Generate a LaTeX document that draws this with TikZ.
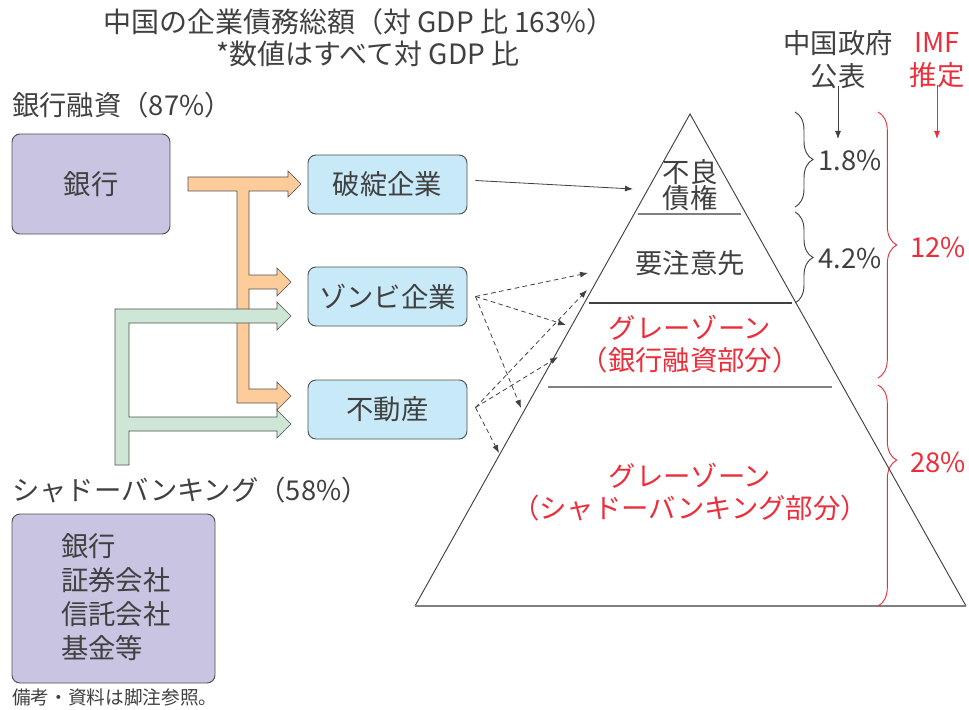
\documentclass[tikz,border=0pt]{standalone}
\usepackage{fontspec}
\setmainfont{Noto Sans CJK JP}
\usetikzlibrary{arrows.meta,decorations.pathreplacing,calc}
\definecolor{ink}{HTML}{404040}
\definecolor{imfred}{HTML}{EC2D3A}
\definecolor{purplefill}{HTML}{C8C4E1}
\definecolor{bluefill}{HTML}{C8E9F8}
\definecolor{orangefill}{HTML}{FDCC9A}
\definecolor{greenfill}{HTML}{CDE6D6}
\definecolor{boxline}{HTML}{505050}
\definecolor{greyline}{HTML}{808080}
\begin{document}
\begin{tikzpicture}[x=0.75pt,y=-0.75pt,
  txt/.style={inner sep=0pt, text=ink, font=\fontsize{20.5}{24.5}\selectfont, align=center},
  redtxt/.style={txt, text=imfred},
  box/.style={draw=boxline, line width=0.7pt, rounded corners=6pt, inner sep=0pt, text=ink, font=\fontsize{20.5}{24.5}\selectfont},
  srcbox/.style={box, fill=purplefill},
  firmbox/.style={box, fill=bluefill, minimum width={159*0.75pt}, minimum height={59*0.75pt}},
  fatarrow/.style={draw=boxline, line width=0.5pt, fill=#1},
  thinarrow/.style={draw=ink, line width=0.6pt, -{Latex[length=6pt,width=4.5pt]}},
  dasharrow/.style={thinarrow, dashed, dash pattern=on 3.5pt off 2.5pt},
  bracedark/.style={draw=ink, line width=0.7pt, decorate, decoration={brace, amplitude=13.5pt, #1}},
  bracered/.style={draw=imfred, line width=0.7pt, decorate, decoration={brace, amplitude=14pt, #1}},
  pyrside/.style={draw=ink, line width=0.7pt},
  tierline/.style={draw=greyline, line width=1.1pt}
]
\useasboundingbox (0,0) rectangle (969,709);

% title
\node[txt, font=\fontsize{21}{24.5}\selectfont] (title1) at (359,22) {中国の企業債務総額（対 GDP 比 163\%）};
\node[txt, font=\fontsize{21}{24.5}\selectfont] (title2) at (368,54) {*数値はすべて対 GDP 比};

% left labels and source boxes
\node[txt, anchor=west] (banklabel) at (12,105) {銀行融資（87\%）};
\node[srcbox, minimum width={158*0.75pt}, minimum height={100*0.75pt}] (bank) at (91,184) {銀行};
\node[txt, anchor=west] (sblabel) at (12,490) {シャドーバンキング（58\%）};
\node[srcbox, minimum width={203*0.75pt}, minimum height={169*0.75pt}] (shadow) at (113.5,598.5) {};
\node[txt, anchor=west, align=left, font=\fontsize{20.5}{25.3}\selectfont] (sbtext) at (61,597) {銀行\\証券会社\\信託会社\\基金等};
\node[txt, anchor=west, font=\fontsize{14}{17}\selectfont] (note) at (12,697) {備考・資料は脚注参照。};

% firm boxes
\node[firmbox] (hatan) at (387.5,184.5) {破綻企業};
\node[firmbox] (zombie) at (387.5,296.5) {ゾンビ企業};
\node[firmbox] (fudosan) at (387.5,409.5) {不動産};

% orange fat arrow (bank loans)
\path[fatarrow=orangefill] (188,177) -- (288,177) -- (288,171) -- (301,184) -- (288,197) -- (288,191)
  -- (249,191) -- (249,275) -- (277,275) -- (277,268) -- (291,282) -- (277,296) -- (277,289)
  -- (249,289) -- (249,389) -- (277,389) -- (277,382) -- (291,396) -- (277,410) -- (277,403)
  -- (237,403) -- (237,191) -- (188,191) -- cycle;
% green fat arrow (shadow banking)
\path[fatarrow=greenfill] (115,465) -- (115,309) -- (277,309) -- (277,302) -- (291,316) -- (277,330) -- (277,323)
  -- (129,323) -- (129,417) -- (277,417) -- (277,410) -- (291,424) -- (277,438) -- (277,431)
  -- (129,431) -- (129,465) -- cycle;

% pyramid
\coordinate (apex) at (690,114);
\coordinate (bl) at (415,606);
\coordinate (br) at (966,606);
\draw[pyrside] (bl) -- (apex) -- (br);
\draw[draw=greyline, line width=1.6pt] (bl) -- (br);
\draw[tierline] (638,214) -- (741,214);
\draw[draw=ink, line width=0.9pt] (589,303) -- (792,303);
\draw[tierline] (548,387) -- (832,387);

\node[txt, font=\fontsize{20.5}{19.5}\selectfont] (furyo) at (690,185) {不良\\債権};
\node[txt] (yochui) at (690,263) {要注意先};
\node[redtxt] (gray1) at (690,344) {グレーゾーン\\（銀行融資部分）};
\node[redtxt] (gray2) at (690,492) {グレーゾーン\\（シャドーバンキング部分）};

% column headers
\node[txt] (govt) at (838,60) {中国政府\\公表};
\node[redtxt] (imf) at (937,60) {IMF\\推定};
\coordinate (govtend) at (838,139);
\coordinate (imfend) at (937,139);
\draw[thinarrow] (govt.south) ++(0,-3) -- (govtend);
\draw[thinarrow, draw=imfred] (imf.south) ++(0,-3) -- (imfend);

% braces
\draw[bracedark={}] (795,112) -- (795,207);
\draw[bracedark={}] (795,212) -- (795,303);
\node[txt, anchor=west] (p18) at (818,160) {1.8\%};
\node[txt, anchor=west] (p42) at (818,258) {4.2\%};
\draw[bracered={}] (878,112) -- (878,378);
\draw[bracered={aspect=0.34}] (878,385) -- (878,606);
\node[redtxt, anchor=west] (p12) at (910,247) {12\%};
\node[redtxt, anchor=west] (p28) at (910,462) {28\%};

% thin and dashed connectors
\coordinate (hs) at ($(hatan.east)+(8,-4)$);
\coordinate (he) at (633,189);
\draw[thinarrow] (hs) -- (he);
\coordinate (zs) at ($(zombie.east)+(8,0)$);
\coordinate (fs) at ($(fudosan.east)+(8,-2)$);
\coordinate (z1) at (588,273);
\coordinate (z2) at (566,325);
\coordinate (z3) at (521,408);
\coordinate (f1) at (587,290);
\coordinate (f2) at (558,357);
\coordinate (f3) at (499,453);
\draw[dasharrow] (zs) -- (z1);
\draw[dasharrow] (zs) -- (z2);
\draw[dasharrow] (zs) -- (z3);
\draw[dasharrow] (fs) -- (f1);
\draw[dasharrow] (fs) -- (f2);
\draw[dasharrow] (fs) -- (f3);
\end{tikzpicture}
\end{document}
